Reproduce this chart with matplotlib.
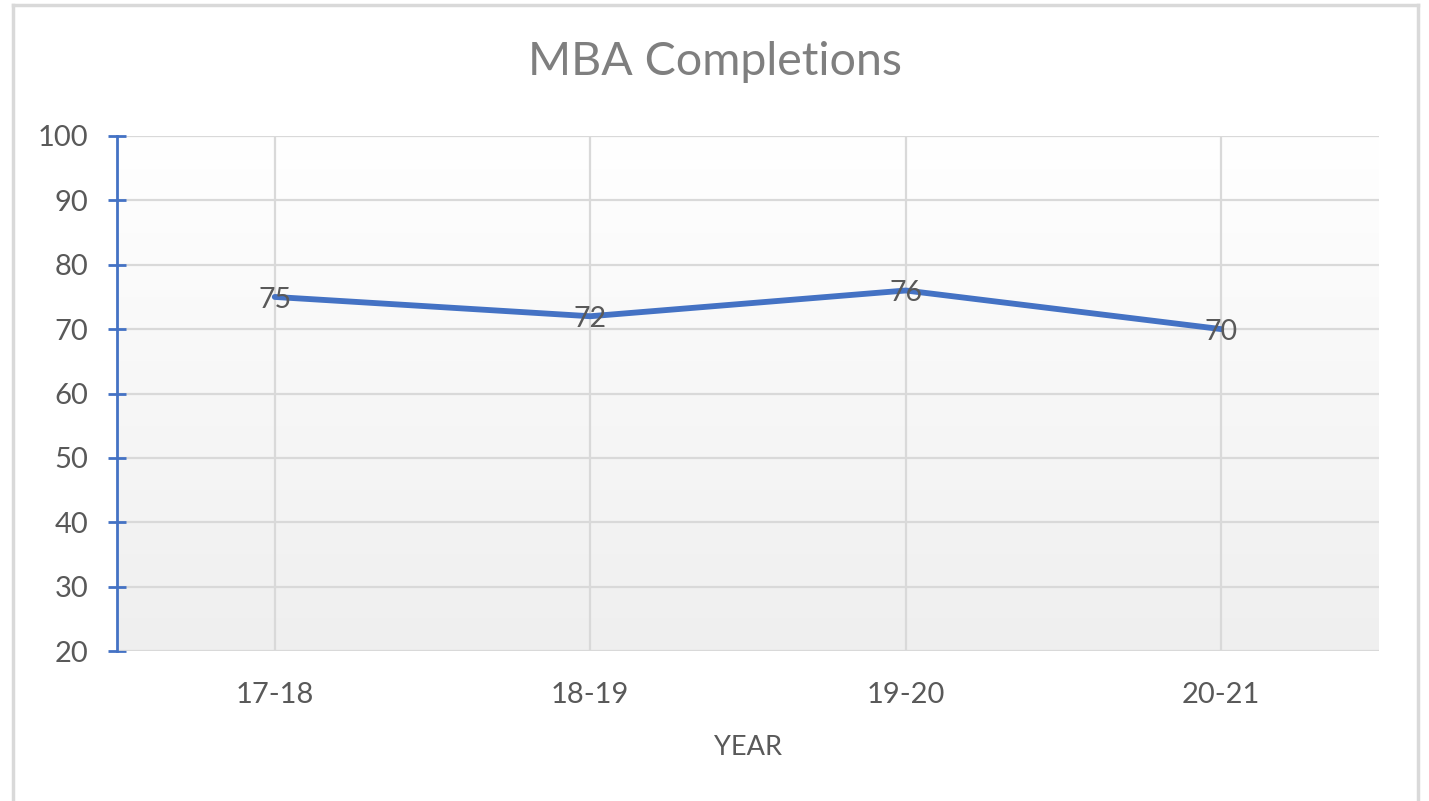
import numpy as np
import matplotlib.pyplot as plt
from matplotlib.lines import Line2D

years = ["17-18", "18-19", "19-20", "20-21"]
completions = [75, 72, 76, 70]
y_ticks = [20, 30, 40, 50, 60, 70, 80, 90, 100]

plt.rcParams['font.family'] = ['Lato', 'DejaVu Sans']

fig = plt.figure(figsize=(14.29, 8.01), dpi=100)
ax = fig.add_axes([117 / 1429, 1 - 651 / 801, (1379 - 117) / 1429, (651 - 136) / 801])

# gradient fill, white on top to light grey at bottom
grad = np.linspace(1.0, 0.0, 256).reshape(-1, 1)
ax.imshow(grad, cmap=plt.cm.colors.LinearSegmentedColormap.from_list("g", ["#efefef", "#ffffff"]),
          extent=[0, 1, 0, 1], transform=ax.transAxes, aspect="auto", zorder=0)

x = np.arange(len(years))
ax.plot(x, completions, color="#4472C4", lw=4.2, solid_capstyle="round", zorder=3)
for xi, v in zip(x, completions):
    ax.annotate(str(v), (xi, v), xytext=(0, -2), textcoords="offset points",
                ha="center", va="center", fontsize=20.5, color="#595959", zorder=4)

ax.set_xlim(-0.5, len(years) - 0.5)
ax.set_ylim(20, 100)
ax.set_yticks(y_ticks)
ax.set_xticks(x)
ax.set_xticklabels(years)
ax.grid(True, color="#d9d9d9", lw=1.6, zorder=1)
ax.set_axisbelow(True)

for s in ["top", "right", "bottom"]:
    ax.spines[s].set_visible(False)
ax.spines["left"].set_color("#4472C4")
ax.spines["left"].set_linewidth(2)
ax.axhline(20, color="#d9d9d9", lw=2, zorder=1)

ax.tick_params(axis="y", direction="inout", length=13, width=2, color="#4472C4",
               labelsize=21, labelcolor="#595959", pad=14)
ax.tick_params(axis="x", length=0, labelsize=21, labelcolor="#595959", pad=22)
ax.set_xlabel("YEAR", fontsize=19.5, color="#595959", labelpad=20)

fig.text(0.5, 1 - 62 / 801, "MBA Completions", ha="center", va="center",
         fontsize=33.5, color="#7f7f7f")

# chart border
bc = "#d9d9d9"
fig.add_artist(Line2D([13 / 1429, 1418 / 1429], [1 - 5 / 801] * 2, color=bc, lw=2.5, transform=fig.transFigure))
fig.add_artist(Line2D([13 / 1429] * 2, [0, 1 - 5 / 801], color=bc, lw=2.5, transform=fig.transFigure))
fig.add_artist(Line2D([1418 / 1429] * 2, [0, 1 - 5 / 801], color=bc, lw=2.5, transform=fig.transFigure))

fig.savefig("out.png", dpi=100)
